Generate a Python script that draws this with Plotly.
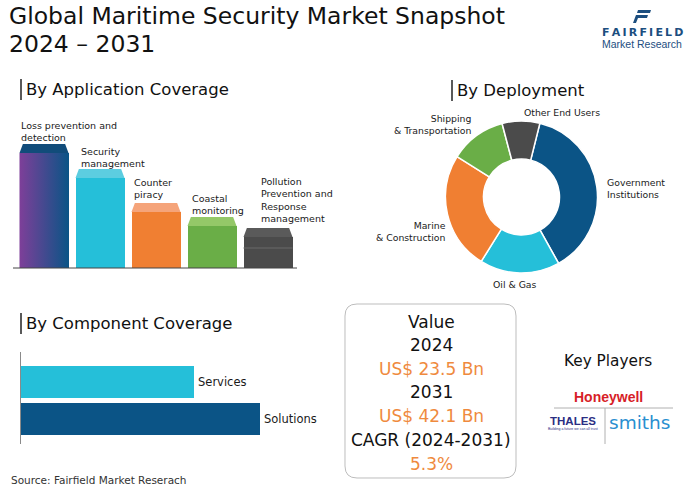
import plotly.graph_objects as go

W, H = 700, 491
def px(x): return x / W
def py(y): return 1 - y / H

# ---------------- data ----------------
app_labels = ["Loss prevention and<br>detection", "Security<br>management", "Counter<br>piracy",
              "Coastal<br>monitoring", "Pollution<br>Prevention and<br>Response<br>management"]
app_values = [124, 99, 65, 51, 40]
app_colors = ["#0b5486", "#25bfd9", "#f07f32", "#6aae47", "#4b4b4b"]
app_cap_colors = ["#114c7a", "#5ccde0", "#f5a47a", "#94c868", "#5a5a5a"]
cap_h = 9

dep_labels = ["Government Institutions", "Oil & Gas", "Marine & Construction",
              "Shipping & Transportation", "Other End Users"]
dep_values = [38, 17, 25, 12, 8]
dep_colors = ["#0b5486", "#25bfd9", "#f07f32", "#6aae47", "#4b4b4b"]

comp_labels = ["Solutions", "Services"]
comp_values = [58, 42]
comp_colors = ["#0b5486", "#25bfd9"]

value_lines = ["Value", "2024", "US$ 23.5 Bn", "2031", "US$ 42.1 Bn", "CAGR (2024-2031)", "5.3%"]
value_is_num = [False, False, True, False, True, False, True]

FONT = "DejaVu Sans"
DARK = "#1a1a1a"
ORANGE = "#ef8a3e"

fig = go.Figure()

# ---------------- application bars ----------------
xs = list(range(len(app_values)))
bw = 0.875
body = [v - cap_h for v in app_values]
fig.add_trace(go.Bar(x=xs, y=body, width=bw, marker=dict(color=app_colors, line=dict(width=0)),
                     xaxis="x", yaxis="y", showlegend=False, hoverinfo="skip"))
x0 = xs[0]
fig.add_trace(go.Scatter(x=[x0 - bw/2, x0 + bw/2, x0 + bw/2, x0 - bw/2, x0 - bw/2],
                         y=[0, 0, body[0], body[0], 0], mode="lines", line=dict(width=0),
                         fill="toself",
                         fillgradient=dict(type="horizontal",
                                           colorscale=[[0, "#7e3f99"], [1, "#0b5486"]]),
                         xaxis="x", yaxis="y", showlegend=False, hoverinfo="skip"))
inset = 0.06
for i, v in enumerate(app_values):
    b = body[i]
    fig.add_trace(go.Scatter(
        x=[i - bw/2, i + bw/2, i + bw/2 - inset, i - bw/2 + inset, i - bw/2],
        y=[b, b, v, v, b], mode="lines", line=dict(width=0), fill="toself",
        fillcolor=app_cap_colors[i], xaxis="x", yaxis="y", showlegend=False, hoverinfo="skip"))
i = len(app_values) - 1
fig.add_trace(go.Scatter(x=[i - bw/2, i + bw/2], y=[body[i] * 0.645, body[i] * 0.645], mode="lines",
                         line=dict(color="#6a6a6a", width=1), xaxis="x", yaxis="y",
                         showlegend=False, hoverinfo="skip"))
label_dx = [-0.44, -0.38, -0.43, -0.4, -0.16]
label_gap = [-1, -2, 1, -1, 2]
for i, (lab, v) in enumerate(zip(app_labels, app_values)):
    fig.add_annotation(x=i + label_dx[i], y=v, xref="x", yref="y", text=lab, showarrow=False,
                       xanchor="left", yanchor="bottom", align="left", yshift=label_gap[i],
                       font=dict(family=FONT, size=9.5, color=DARK))

# ---------------- deployment donut ----------------
fig.add_trace(go.Pie(labels=dep_labels, values=dep_values, hole=0.5, sort=False,
                     direction="clockwise", rotation=14,
                     marker=dict(colors=dep_colors, line=dict(color="white", width=1.5)),
                     textinfo="none", hoverinfo="label+percent", showlegend=False,
                     domain=dict(x=[px(445.5), px(597.5)], y=[py(273), py(121)])))
dep_ann = [
    ("Government<br>Institutions", 605, 188, "left"),
    ("Oil & Gas", 515, 284, "center"),
    ("Marine<br>& Construction", 448, 232, "right"),
    ("Shipping<br>& Transportation", 473, 124, "right"),
    ("Other End Users", 562, 112, "center"),
]
for t, x, y, a in dep_ann:
    fig.add_annotation(x=px(x), y=py(y), xref="paper", yref="paper", text=t, showarrow=False,
                       xanchor=a, yanchor="middle", align=a,
                       font=dict(family=FONT, size=9.3, color=DARK))

# ---------------- component bars ----------------
fig.add_trace(go.Bar(x=comp_values, y=[0, 1], orientation="h", width=0.865,
                     marker=dict(color=comp_colors, line=dict(width=0)),
                     xaxis="x2", yaxis="y2", showlegend=False, hoverinfo="skip"))
for j, (lab, v) in enumerate(zip(comp_labels, comp_values)):
    fig.add_annotation(x=v, y=j, xref="x2", yref="y2", text=lab, showarrow=False,
                       xanchor="left", yanchor="middle", xshift=2,
                       font=dict(family=FONT, size=11.5, color=DARK))

# ---------------- value box ----------------
fig.add_shape(type="path",
              path="M %f %f L %f %f Q %f %f %f %f L %f %f Q %f %f %f %f L %f %f Q %f %f %f %f L %f %f Q %f %f %f %f Z" % (
                  px(357), py(304), px(504), py(304), px(516), py(304), px(516), py(316),
                  px(516), py(466), px(516), py(478), px(504), py(478),
                  px(357), py(478), px(345), py(478), px(345), py(466),
                  px(345), py(316), px(345), py(304), px(357), py(304)),
              xref="paper", yref="paper", line=dict(color="#bdbdbd", width=1))
ys = [322, 345, 369, 392, 416, 440, 464]
for t, num, y in zip(value_lines, value_is_num, ys):
    fig.add_annotation(x=px(431), y=py(y), xref="paper", yref="paper", text=t, showarrow=False,
                       xanchor="center", yanchor="middle",
                       font=dict(family=FONT, size=17, color=ORANGE if num else "#111111"))

# ---------------- key players ----------------
fig.add_annotation(x=px(608), y=py(361), xref="paper", yref="paper", text="Key Players",
                   showarrow=False, xanchor="center", yanchor="middle",
                   font=dict(family=FONT, size=15.3, color="#111111"))
fig.add_annotation(x=px(608), y=py(397), xref="paper", yref="paper", text="<b>Honeywell</b>",
                   showarrow=False, xanchor="center", yanchor="middle",
                   font=dict(family="Liberation Sans", size=14, color="#d71e28"))
fig.add_shape(type="line", x0=px(554), x1=px(673), y0=py(408), y1=py(408), xref="paper", yref="paper",
              line=dict(color="#b0b0b0", width=1))
fig.add_shape(type="line", x0=px(605), x1=px(605), y0=py(408), y1=py(444), xref="paper", yref="paper",
              line=dict(color="#b0b0b0", width=1))
fig.add_annotation(x=px(573), y=py(421), xref="paper", yref="paper", text="<b>THALES</b>",
                   showarrow=False, xanchor="center", yanchor="middle",
                   font=dict(family="Liberation Sans", size=11.5, color="#2b2e83"))
fig.add_annotation(x=px(573), y=py(428.5), xref="paper", yref="paper",
                   text="Building a future we can all trust", showarrow=False,
                   xanchor="center", yanchor="middle",
                   font=dict(family="Liberation Sans", size=3.5, color="#2b2e83"))
fig.add_annotation(x=px(639), y=py(422), xref="paper", yref="paper", text="smiths",
                   showarrow=False, xanchor="center", yanchor="middle",
                   font=dict(family=FONT, size=18.5, color="#2a8fd0"))

# ---------------- titles ----------------
fig.add_annotation(x=px(7), y=py(16), xref="paper", yref="paper",
                   text="Global Maritime Security Market Snapshot", showarrow=False,
                   xanchor="left", yanchor="middle",
                   font=dict(family=FONT, size=23.5, color="#111111"))
fig.add_annotation(x=px(7), y=py(43.5), xref="paper", yref="paper", text="2024 – 2031",
                   showarrow=False, xanchor="left", yanchor="middle",
                   font=dict(family=FONT, size=23.5, color="#111111"))
for t, x, y in [("By Application Coverage", 24, 89), ("By Deployment", 455, 90),
                ("By Component Coverage", 24, 323)]:
    fig.add_annotation(x=px(x), y=py(y), xref="paper", yref="paper", text=t, showarrow=False,
                       xanchor="left", yanchor="middle", font=dict(family=FONT, size=16.5, color="#111111"))
    fig.add_shape(type="line", x0=px(x - 3), x1=px(x - 3), y0=py(y - 10), y1=py(y + 11),
                  xref="paper", yref="paper", line=dict(color="#222222", width=1.5))

fig.add_annotation(x=px(9), y=py(480), xref="paper", yref="paper",
                   text="Source: Fairfield Market Reserach", showarrow=False,
                   xanchor="left", yanchor="middle", font=dict(family=FONT, size=10.5, color="#333333"))

# ---------------- logo ----------------
LOGO = "#1c4e7f"
fig.add_shape(type="path", path="M %f %f L %f %f L %f %f L %f %f Z" % (
    px(638), py(10), px(651), py(10), px(650), py(13), px(637), py(13)),
    xref="paper", yref="paper", fillcolor=LOGO, line=dict(width=0))
fig.add_shape(type="path", path="M %f %f L %f %f L %f %f L %f %f L %f %f L %f %f Z" % (
    px(636), py(15), px(648), py(15), px(647), py(18), px(638), py(18), px(636), py(23), px(633), py(23)),
    xref="paper", yref="paper", fillcolor=LOGO, line=dict(width=0))
fig.add_annotation(x=px(642), y=py(33), xref="paper", yref="paper",
                   text="<b>F\u2009A\u2009I\u2009R\u2009F\u2009I\u2009E\u2009L\u2009D</b>",
                   showarrow=False, xanchor="center", yanchor="middle",
                   font=dict(family="DejaVu Sans", size=11, color=LOGO))
fig.add_annotation(x=px(642), y=py(44), xref="paper", yref="paper", text="Market Research",
                   showarrow=False, xanchor="center", yanchor="middle",
                   font=dict(family="Liberation Sans", size=10.5, color=LOGO))

# ---------------- layout ----------------
fig.update_layout(
    width=W, height=H, margin=dict(l=0, r=0, t=0, b=0),
    paper_bgcolor="white", plot_bgcolor="rgba(0,0,0,0)",
    bargap=0,
    xaxis=dict(domain=[px(16), px(296)], range=[-0.5, 4.5], showgrid=False, zeroline=False,
               showticklabels=False, showline=False, fixedrange=True),
    yaxis=dict(domain=[py(268), py(130)], range=[0, 138], showgrid=False, zeroline=False,
               showticklabels=False, fixedrange=True),
    xaxis2=dict(domain=[px(21), px(300)], range=[0, 67.7], showgrid=False, zeroline=False,
                showticklabels=False, anchor="y2", fixedrange=True),
    yaxis2=dict(domain=[py(444), py(352)], range=[-0.68, 1.8], showgrid=False, zeroline=False,
                showticklabels=False, showline=True, linecolor="#8a8a8a", linewidth=1,
                anchor="x2", fixedrange=True),
)
fig.add_shape(type="line", x0=px(13), x1=px(297), y0=py(268), y1=py(268), xref="paper", yref="paper",
              line=dict(color="#444444", width=1))

fig.write_html("out.html", config={"displayModeBar": False},
               post_script="document.body.style.margin='0';document.body.style.padding='0';")
